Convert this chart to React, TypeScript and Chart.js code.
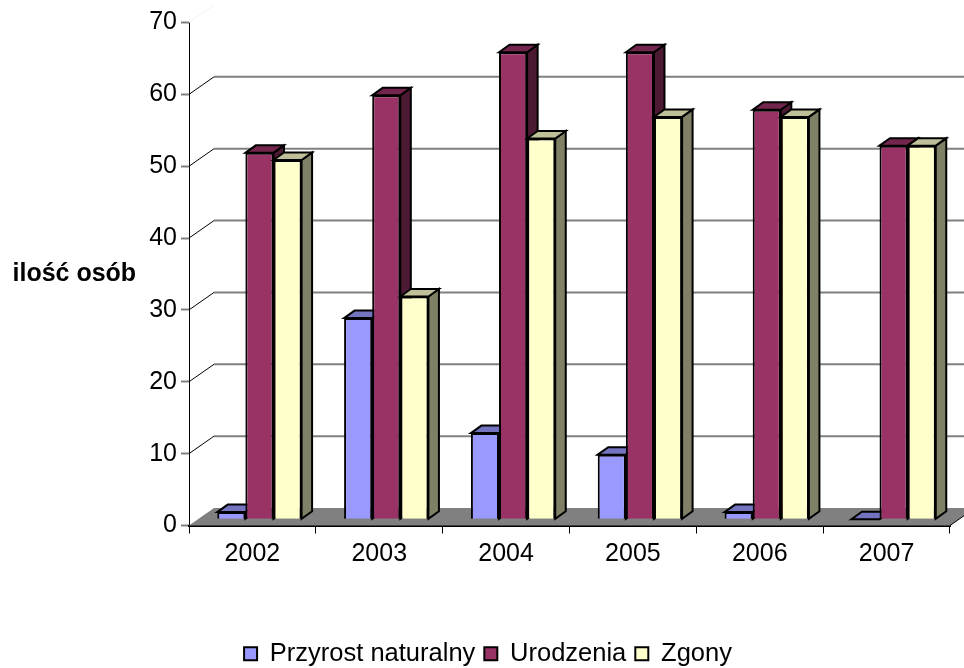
import React, { useEffect, useRef } from "react";
import { Chart, registerables } from "chart.js";

Chart.register(...registerables);

const categories = ["2002", "2003", "2004", "2005", "2006", "2007"];
const przyrost = [1, 28, 12, 9, 1, 0];
const urodzenia = [51, 59, 65, 65, 57, 52];
const zgony = [50, 31, 53, 56, 56, 52];

const FONT = "'Liberation Sans', Arial, sans-serif";
const faces: Record<string, { top: string; side: string }> = {
  "#9999ff": { top: "#7373bf", side: "#4d4d80" },
  "#993366": { top: "#73264d", side: "#4d1a33" },
  "#ffffcc": { top: "#bfbf99", side: "#808066" },
};

const plot3d = {
  id: "plot3d",
  afterLayout(chart: any) {
    const lg = chart.legend;
    lg.top = 632;
    lg.bottom = 668;
    lg.left += 13;
    lg.right += 13;
  },
  beforeDatasetsDraw(chart: any) {
    const { ctx, scales, chartArea } = chart;
    const y = scales.y;
    const x = scales.x;
    const dx = 25, dy = -17.5;
    const fl = y.getPixelForValue(0);
    ctx.save();
    ctx.beginPath();
    ctx.moveTo(chartArea.left, fl);
    ctx.lineTo(chartArea.left + dx, fl + dy);
    ctx.lineTo(chartArea.right + dx, fl + dy);
    ctx.lineTo(chartArea.right, fl);
    ctx.closePath();
    ctx.fillStyle = "#808080";
    ctx.fill();
    ctx.lineWidth = 1;
    (y.ticks as any[]).forEach((t) => {
      const py = y.getPixelForValue(t.value);
      const top = t.value === 70;
      ctx.strokeStyle = top ? "#f2f2f2" : "#000000";
      if (t.value !== 0) {
        ctx.beginPath();
        ctx.moveTo(chartArea.left, py);
        ctx.lineTo(chartArea.left + dx, py + dy);
        ctx.stroke();
      }
      if (!top && t.value !== 0) {
        ctx.strokeStyle = "#808080";
        ctx.lineWidth = 2;
        ctx.beginPath();
        ctx.moveTo(chartArea.left + dx, py + dy);
        ctx.lineTo(chartArea.right + dx, py + dy);
        ctx.stroke();
        ctx.lineWidth = 1;
      }
    });
    ctx.strokeStyle = "#000000";
    ctx.beginPath();
    ctx.moveTo(x.right, fl);
    ctx.lineTo(x.right + dx, fl + dy);
    ctx.stroke();
    ctx.restore();

    // bars: drawn left to right so that each one covers the depth of its left neighbour
    const ox = 7, oy = -6.2, bx = 10.5, by = -7.5;
    ctx.save();
    ctx.translate(ox, oy);
    chart.data.datasets.forEach((ds: any, i: number) => {
      const f = faces[ds.backgroundColor];
      chart.getDatasetMeta(i).data.forEach((bar: any) => {
        const p = bar.getProps(["x", "y", "base", "width"], true);
        const l = p.x - p.width / 2, r = p.x + p.width / 2;
        ctx.lineWidth = 2;
        ctx.strokeStyle = "#000000";
        ctx.lineJoin = "miter";
        ctx.beginPath();
        ctx.moveTo(r, p.y);
        ctx.lineTo(r + bx, p.y + by);
        ctx.lineTo(r + bx, p.base + by);
        ctx.lineTo(r, p.base);
        ctx.closePath();
        ctx.fillStyle = f.side;
        ctx.fill();
        ctx.stroke();
        ctx.beginPath();
        ctx.moveTo(l, p.y);
        ctx.lineTo(l + bx, p.y + by);
        ctx.lineTo(r + bx, p.y + by);
        ctx.lineTo(r, p.y);
        ctx.closePath();
        ctx.fillStyle = f.top;
        ctx.fill();
        ctx.stroke();
        bar.draw(ctx);
      });
    });
    ctx.restore();
  },
  beforeDatasetDraw() {
    return false;
  },
  afterDraw(chart: any) {
    const { ctx } = chart;
    ctx.save();
    ctx.font = "bold 25px " + FONT;
    ctx.fillStyle = "#000000";
    ctx.textAlign = "left";
    ctx.textBaseline = "middle";
    ctx.fillText("ilość osób", 12.5, 274);
    ctx.restore();
  },
};

export default function App() {
  const ref = useRef<HTMLCanvasElement>(null);
  useEffect(() => {
    document.body.style.margin = "0";
    const chart = new Chart(ref.current as HTMLCanvasElement, {
      type: "bar",
      data: {
        labels: categories,
        datasets: [
          { label: "Przyrost naturalny", data: przyrost, backgroundColor: "#9999ff" },
          { label: "Urodzenia", data: urodzenia, backgroundColor: "#993366" },
          { label: "Zgony", data: zgony, backgroundColor: "#ffffcc" },
        ].map((d) => ({
          ...d,
          borderColor: "#000000",
          borderWidth: 2,
          categoryPercentage: 0.665,
          barPercentage: 1,
        })),
      },
      options: {
        responsive: false,
        animation: false,
        layout: { padding: { left: 0, right: 14, top: 22.5, bottom: 0 } },
        plugins: {
          title: { display: false },
          tooltip: { enabled: false },
          legend: {
            position: "bottom",
            labels: {
              boxWidth: 13,
              boxHeight: 13,
              padding: 9,
              color: "#000000",
              font: { family: FONT, size: 25.5 },
            },
          },
        },
        scales: {
          x: {
            afterFit: (s: any) => {
              s.height = 98;
            },
            grid: { drawOnChartArea: false, tickColor: "#000000", tickLength: 8, offset: true },
            border: { color: "#000000", width: 2 },
            ticks: { color: "#000000", font: { family: FONT, size: 25 }, padding: 6, maxRotation: 0 },
          },
          y: {
            min: 0,
            max: 70,
            afterFit: (s: any) => {
              s.width = 189;
            },
            grid: { drawOnChartArea: false, tickColor: "#808080", tickLength: 8, tickWidth: 2 },
            border: { color: "#000000", width: 1 },
            ticks: { stepSize: 10, color: "#000000", font: { family: FONT, size: 25 }, padding: 4 },
          },
        },
      },
      plugins: [plot3d],
    } as any);
    return () => chart.destroy();
  }, []);
  return <canvas ref={ref} width={964} height={668} style={{ display: "block" }} />;
}
